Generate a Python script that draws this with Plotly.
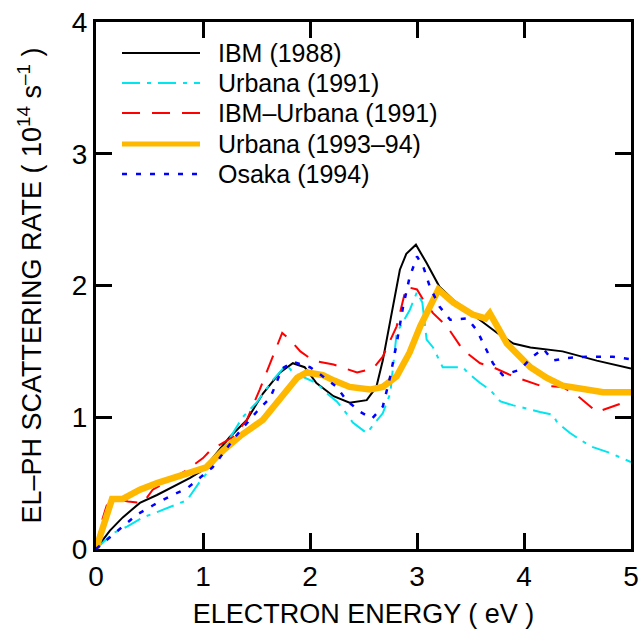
import plotly.graph_objects as go

# ---- data ----
ibm88_x = [0, 0.13, 0.25, 0.41, 0.57, 0.72, 0.88, 1.0, 1.25, 1.41, 1.56, 1.72, 1.84, 1.95, 2.06, 2.22,
           2.37, 2.53, 2.62, 2.68, 2.78, 2.84, 2.90, 2.99, 3.09, 3.21, 3.34, 3.59, 3.75, 3.90, 4.06,
           4.36, 4.68, 5.0]
ibm88_y = [0, 0.14, 0.24, 0.35, 0.41, 0.47, 0.54, 0.60, 0.85, 0.98, 1.18, 1.34, 1.41, 1.38, 1.26, 1.16,
           1.11, 1.13, 1.23, 1.43, 1.87, 2.12, 2.24, 2.31, 2.17, 1.99, 1.89, 1.74, 1.64, 1.56, 1.53,
           1.50, 1.43, 1.37]

urb91_x = [0, 0.16, 0.29, 0.44, 0.57, 0.69, 0.85, 0.97, 1.04, 1.22, 1.37, 1.5, 1.65, 1.78, 1.84, 2.06,
           2.16, 2.25, 2.34, 2.40, 2.53, 2.68, 2.75, 2.81, 2.93, 3.0, 3.05, 3.09, 3.15, 3.24, 3.34,
           3.43, 3.47, 3.59, 3.68, 3.78, 3.90, 3.96, 4.15, 4.27, 4.31, 4.43, 4.62, 4.80, 5.0]
urb91_y = [0, 0.12, 0.17, 0.24, 0.28, 0.32, 0.37, 0.51, 0.58, 0.80, 1.0, 1.11, 1.28, 1.40, 1.34, 1.26,
           1.18, 1.12, 1.03, 0.96, 0.88, 1.03, 1.18, 1.64, 1.81, 1.95, 1.87, 1.59, 1.53, 1.38, 1.38,
           1.38, 1.34, 1.26, 1.21, 1.12, 1.09, 1.08, 1.04, 1.02, 0.96, 0.88, 0.78, 0.73, 0.66]

ibmurb_x = [0, 0.05, 0.1, 0.18, 0.3, 0.44, 0.53, 0.7, 0.85, 1.0, 1.07, 1.28, 1.41, 1.53, 1.63, 1.74,
            1.81, 1.91, 2.03, 2.22, 2.44, 2.59, 2.68, 2.81, 2.90, 3.0, 3.06, 3.15, 3.28, 3.43, 3.59,
            3.71, 3.90, 4.15, 4.36, 4.52, 4.68, 4.83, 5.0]
ibmurb_y = [0, 0.2, 0.33, 0.38, 0.36, 0.35, 0.45, 0.53, 0.60, 0.69, 0.75, 0.85, 0.98, 1.21, 1.41, 1.64,
            1.59, 1.50, 1.43, 1.40, 1.34, 1.37, 1.46, 1.69, 1.99, 1.97, 1.89, 1.79, 1.69, 1.51, 1.41,
            1.38, 1.31, 1.24, 1.23, 1.15, 1.04, 1.08, 1.13]

urb93_x = [0, 0.08, 0.15, 0.25, 0.41, 0.57, 0.72, 0.88, 1.03, 1.19, 1.35, 1.56, 1.72, 1.88, 1.97, 2.12,
           2.22, 2.37, 2.56, 2.68, 2.81, 2.93, 3.03, 3.14, 3.20, 3.34, 3.52, 3.64, 3.68, 3.75, 3.84,
           4.06, 4.21, 4.36, 4.52, 4.74, 5.0]
urb93_y = [0, 0.2, 0.38, 0.38, 0.45, 0.50, 0.54, 0.58, 0.62, 0.75, 0.86, 0.98, 1.15, 1.30, 1.34, 1.32,
           1.28, 1.23, 1.21, 1.23, 1.31, 1.49, 1.69, 1.87, 1.97, 1.87, 1.78, 1.75, 1.79, 1.69, 1.56,
           1.38, 1.30, 1.24, 1.22, 1.19, 1.19]

osaka_x = [0, 0.13, 0.25, 0.38, 0.53, 0.69, 0.85, 0.97, 1.09, 1.3, 1.5, 1.63, 1.74, 1.84, 2.0, 2.12,
           2.25, 2.34, 2.47, 2.58, 2.68, 2.75, 2.81, 2.87, 2.93, 3.0, 3.06, 3.12, 3.21, 3.31, 3.47,
           3.56, 3.65, 3.71, 3.80, 3.96, 4.08, 4.18, 4.27, 4.40, 4.59, 4.83, 5.0]
osaka_y = [0, 0.09, 0.17, 0.26, 0.33, 0.40, 0.46, 0.54, 0.62, 0.85, 1.04, 1.15, 1.37, 1.42, 1.38, 1.31,
           1.23, 1.13, 1.04, 0.99, 1.08, 1.31, 1.56, 1.84, 2.06, 2.22, 2.14, 1.99, 1.84, 1.74, 1.75,
           1.66, 1.51, 1.41, 1.32, 1.36, 1.46, 1.52, 1.43, 1.45, 1.46, 1.46, 1.44]

x_ticks = [0, 1, 2, 3, 4, 5]
y_ticks = [0, 1, 2, 3, 4]

series = [
    ("IBM (1988)", ibm88_x, ibm88_y, "#000000", 2, "solid"),
    ("Urbana (1991)", urb91_x, urb91_y, "#00E5EE", 2, "18px,7px,4px,7px"),
    ("IBM\u2013Urbana (1991)", ibmurb_x, ibmurb_y, "#FF0000", 2, "18px,12px"),
    ("Urbana (1993\u201394)", urb93_x, urb93_y, "#FFB800", 6.5, "solid"),
    ("Osaka (1994)", osaka_x, osaka_y, "#0000FF", 2.5, "5px,9px"),
]

FONT = "Liberation Sans, Arial, sans-serif"

fig = go.Figure()
for name, xs, ys, col, w, dash in series:
    fig.add_trace(go.Scatter(x=xs, y=ys, mode="lines", name=name,
                             line=dict(color=col, width=w, dash=dash),
                             showlegend=False))

# custom legend (long line samples like the reference)
leg_x0, leg_x1, txt_x = 122, 200, 216
row_y = [53, 83, 113, 144, 174]
W, H = 640, 634
L, R, T, B = 96, 9, 22, 85
pw, ph = W - L - R, H - T - B
for (name, xs, ys, col, w, dash), ry in zip(series, row_y):
    yp = 1 - (ry - T) / ph
    fig.add_shape(type="line", xref="paper", yref="paper",
                  x0=(leg_x0 - L) / pw, x1=(leg_x1 - L) / pw, y0=yp, y1=yp,
                  line=dict(color=col, width=(5 if w > 5 else w), dash=dash))
    fig.add_annotation(xref="paper", yref="paper", x=(txt_x - L) / pw, y=yp,
                       text=name, showarrow=False, xanchor="left", yanchor="middle",
                       font=dict(family=FONT, size=25, color="#000"))

axis_common = dict(showgrid=False, zeroline=False, showline=True, linecolor="black",
                   linewidth=3, mirror="ticks", ticks="inside", ticklen=16, tickwidth=2.5,
                   tickcolor="black", tickfont=dict(family=FONT, size=28, color="#000"),
                   automargin=False)

fig.update_xaxes(range=[0, 5], tickvals=x_ticks, ticktext=[str(v) for v in x_ticks],
                 title=dict(text="ELECTRON ENERGY ( eV )", font=dict(family=FONT, size=27, color="#000"),
                            standoff=14),
                 **axis_common)
fig.update_yaxes(range=[0, 4], tickvals=y_ticks, ticktext=[str(v) for v in y_ticks],
                 title=dict(text="EL\u2013PH SCATTERING RATE ( 10<sup>14</sup> s<sup>\u20131</sup> )",
                            font=dict(family=FONT, size=27, color="#000"), standoff=23),
                 **axis_common)

fig.update_layout(width=W, height=H, margin=dict(l=L, r=R, t=T, b=B, pad=0),
                  plot_bgcolor="white", paper_bgcolor="white", showlegend=False,
                  font=dict(family=FONT, color="#000"))

fig.write_html("out.html")
